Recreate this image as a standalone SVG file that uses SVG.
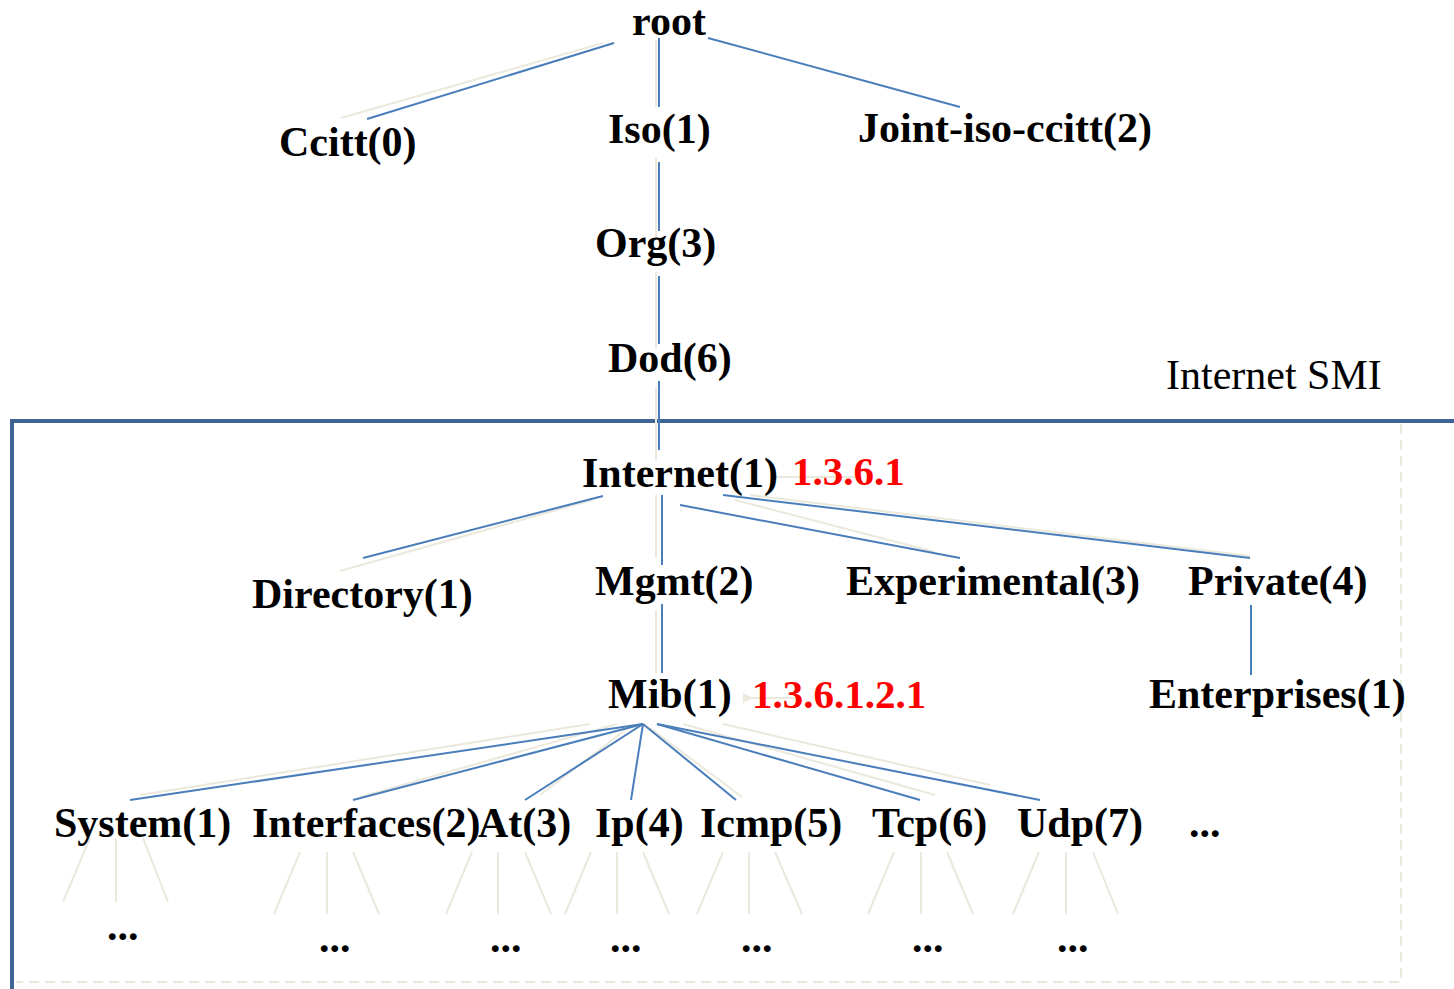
<svg xmlns="http://www.w3.org/2000/svg" width="1454" height="989" viewBox="0 0 1454 989">
  <style>
    .lbl { font-family: "Liberation Serif", "Times New Roman", serif; font-weight: bold; font-size: 42px; fill: #000; }
    .oid { font-family: "Liberation Serif", "Times New Roman", serif; font-weight: bold; font-size: 41px; fill: #ff0000; }
    .title { font-family: "Liberation Serif", "Times New Roman", serif; font-size: 42px; fill: #000; }
    .edge { stroke: #4a7ebb; stroke-width: 2; fill: none; }
    .ghost { stroke: #ebe8dc; stroke-width: 2; fill: none; }
    .frame { stroke: #3d6494; stroke-width: 4; fill: none; }
    .dash { stroke: #ebe8dc; stroke-width: 2; fill: none; stroke-dasharray: 10 6; }
  </style>
  <defs>
    <marker id="ghostHead" markerWidth="10" markerHeight="10" refX="1" refY="5" orient="auto" markerUnits="userSpaceOnUse">
      <path d="M10,0 L0,5 L10,10 Z" fill="#ebe8dc"/>
    </marker>
  </defs>

  <rect x="0" y="0" width="1454" height="989" fill="#ffffff"/>

  <!-- Internet SMI region -->
  <g id="smi-region">
    <path class="dash" d="M1401,424 V982 H16"/>
    <path class="frame" d="M1454,421 H12 V989"/>
    <text class="title" x="1166" y="389">Internet SMI</text>
  </g>

  <!-- connectors -->
  <g id="connectors">
    <!-- faint secondary strokes -->
    <g class="ghost">
      <line x1="603" y1="43" x2="341" y2="118"/>
      <line x1="656" y1="40" x2="656" y2="107"/>
      <line x1="656" y1="158" x2="656" y2="240"/>
      <line x1="656" y1="272" x2="656" y2="348"/>
      <line x1="656" y1="387" x2="656" y2="460"/>
      <line x1="592" y1="500" x2="340" y2="571"/>
      <line x1="656" y1="495" x2="656" y2="558"/>
      <line x1="750" y1="495" x2="1250" y2="556"/>
      <line x1="735" y1="500" x2="935" y2="552"/>
      <line x1="656" y1="610" x2="656" y2="673"/>
      <line x1="590" y1="724" x2="140" y2="795"/>
      <line x1="617" y1="724" x2="360" y2="797"/>
      <line x1="628" y1="728" x2="540" y2="795"/>
      <line x1="650" y1="728" x2="742" y2="797"/>
      <line x1="683" y1="724" x2="935" y2="795"/>
      <line x1="723" y1="724" x2="990" y2="785"/>
      <!-- leaf fans -->
      <path d="M90,838 L63,902 M116,838 V902 M143,838 L168,902"/>
      <path d="M300,852 L274,914 M327,852 V914 M353,852 L379,914"/>
      <path d="M472,852 L446,914 M498,852 V914 M525,852 L551,914"/>
      <path d="M591,852 L565,914 M617,852 V914 M643,852 L669,914"/>
      <path d="M723,852 L697,914 M749,852 V914 M775,852 L802,914"/>
      <path d="M894,852 L868,914 M921,852 V914 M947,852 L973,914"/>
      <path d="M1039,852 L1013,914 M1066,852 V914 M1093,852 L1118,914"/>
      <!-- OID pointers -->
      <line x1="855" y1="477" x2="779" y2="477" marker-end="url(#ghostHead)"/>
      <line x1="800" y1="698" x2="752" y2="698" marker-end="url(#ghostHead)"/>
    </g>
    <!-- tree edges -->
    <g class="edge">
      <line x1="614" y1="43" x2="367" y2="119"/>
      <line x1="659" y1="38" x2="659" y2="107"/>
      <line x1="708" y1="38" x2="960" y2="107"/>
      <line x1="659" y1="162" x2="659" y2="231"/>
      <line x1="659" y1="276" x2="659" y2="344"/>
      <line x1="659" y1="381" x2="659" y2="450"/>
      <line x1="603" y1="496" x2="363" y2="558"/>
      <line x1="662" y1="495" x2="662" y2="565"/>
      <line x1="680" y1="505" x2="960" y2="558"/>
      <line x1="723" y1="495" x2="1250" y2="558"/>
      <line x1="662" y1="604" x2="662" y2="673"/>
      <line x1="1251" y1="605" x2="1251" y2="675"/>
      <line x1="643" y1="724" x2="130" y2="800"/>
      <line x1="643" y1="724" x2="353" y2="800"/>
      <line x1="643" y1="724" x2="525" y2="800"/>
      <line x1="643" y1="724" x2="631" y2="800"/>
      <line x1="643" y1="724" x2="736" y2="800"/>
      <line x1="657" y1="724" x2="920" y2="800"/>
      <line x1="657" y1="724" x2="1040" y2="800"/>
    </g>
  </g>

  <!-- nodes -->
  <g id="node-root"><text class="lbl" x="632" y="35">root</text></g>
  <g id="node-ccitt"><text class="lbl" x="279" y="156">Ccitt(0)</text></g>
  <g id="node-iso"><text class="lbl" x="608" y="143">Iso(1)</text></g>
  <g id="node-joint"><text class="lbl" x="858" y="142">Joint-iso-ccitt(2)</text></g>
  <g id="node-org"><text class="lbl" x="595" y="257">Org(3)</text></g>
  <g id="node-dod"><text class="lbl" x="608" y="372">Dod(6)</text></g>
  <g id="node-internet">
    <text class="lbl" x="582" y="487">Internet(1)</text>
    <text class="oid" x="792" y="485">1.3.6.1</text>
  </g>
  <g id="node-directory"><text class="lbl" x="252" y="608">Directory(1)</text></g>
  <g id="node-mgmt"><text class="lbl" x="595" y="595">Mgmt(2)</text></g>
  <g id="node-experimental"><text class="lbl" x="846" y="595">Experimental(3)</text></g>
  <g id="node-private"><text class="lbl" x="1188" y="595">Private(4)</text></g>
  <g id="node-mib">
    <text class="lbl" x="608" y="708">Mib(1)</text>
    <text class="oid" x="752" y="708">1.3.6.1.2.1</text>
  </g>
  <g id="node-enterprises"><text class="lbl" x="1149" y="708">Enterprises(1)</text></g>
  <g id="node-system"><text class="lbl" x="54" y="837">System(1)</text></g>
  <g id="node-interfaces"><text class="lbl" x="252" y="837">Interfaces(2)</text></g>
  <g id="node-at"><text class="lbl" x="478" y="837">At(3)</text></g>
  <g id="node-ip"><text class="lbl" x="595" y="837">Ip(4)</text></g>
  <g id="node-icmp"><text class="lbl" x="700" y="837">Icmp(5)</text></g>
  <g id="node-tcp"><text class="lbl" x="872" y="837">Tcp(6)</text></g>
  <g id="node-udp"><text class="lbl" x="1017" y="837">Udp(7)</text></g>
  <g id="node-more"><text class="lbl" x="1189" y="837">...</text></g>

  <!-- leaf ellipses -->
  <g id="leaves">
    <text class="lbl" x="107" y="940">...</text>
    <text class="lbl" x="319" y="952">...</text>
    <text class="lbl" x="490" y="952">...</text>
    <text class="lbl" x="610" y="952">...</text>
    <text class="lbl" x="741" y="952">...</text>
    <text class="lbl" x="912" y="952">...</text>
    <text class="lbl" x="1057" y="952">...</text>
  </g>
</svg>
